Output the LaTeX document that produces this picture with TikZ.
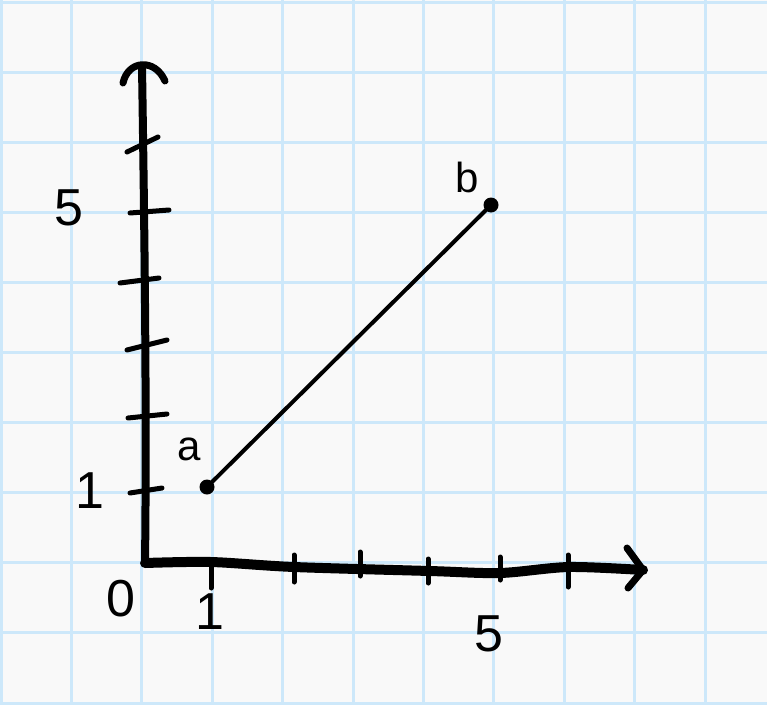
\documentclass[tikz,border=0pt]{standalone}
\usepackage{fontspec}
\setmainfont{Liberation Sans}
\definecolor{paper}{RGB}{249,249,249}
\definecolor{gridblue}{RGB}{205,232,250}
\tikzset{
  gridline/.style={draw=gridblue, line width=3},
  axisline/.style={line width=8, line cap=round, line join=round},
  tickline/.style={line width=5, line cap=round},
  segline/.style={line width=4, line cap=round},
  dotnode/.style={circle, fill=black, inner sep=0pt, minimum size=15},
  numlabel/.style={font=\fontsize{52}{52}\selectfont, inner sep=0pt},
  letterlabel/.style={font=\fontsize{42}{42}\selectfont, inner sep=0pt},
}
\begin{document}
\begin{tikzpicture}[x=1pt,y=-1pt]
\fill[paper] (0,0) rectangle (767,704);
\useasboundingbox (0,0) rectangle (767,704);
% grid
\foreach \i in {0,...,10} {
  \draw[gridline] ({1+70.4*\i},0) -- ({1+70.4*\i},704);
  \draw[gridline] (0,{2+70.1*\i}) -- (767,{2+70.1*\i});
}
% axes
\coordinate (O) at (145,563);
\coordinate (ytop) at (142,66);
\coordinate (xend) at (643,570);
\draw[axisline] (O) .. controls (147,400) and (144,200) .. (ytop);
\draw[axisline, line width=7] (123,83) .. controls (128,60) and (155,58) .. (165,81);
\draw[axisline, line width=10] plot[smooth, tension=0.5] coordinates {(145,563) (211,562) (294,567) (430,571) (500,573) (569,567) (643,570)};
\draw[axisline, line width=7] (627,548) -- (xend) -- (628,588);
% x ticks
\draw[tickline] (211,560) -- (211,588);
\draw[tickline] (294,555) -- (294,582);
\draw[tickline] (360,552) -- (360,576);
\draw[tickline] (428,559) -- (428,583);
\draw[tickline] (500,557) -- (500,580);
\draw[tickline] (568,555) -- (568,587);
% y ticks
\draw[tickline] (127,152) -- (158,137);
\draw[tickline] (130,213) -- (169,210);
\draw[tickline] (120,283) -- (159,278);
\draw[tickline] (127,350) -- (167,340);
\draw[tickline] (128,418) -- (167,414);
\draw[tickline] (130,493) -- (162,488);
% points and segment
\node[dotnode] (a) at (207,487) {};
\node[dotnode] (b) at (491,205) {};
\draw[segline] (a) -- (b);
% labels
\node[letterlabel] (la) at (189,449) {a};
\node[letterlabel] (lb) at (467,177) {b};
\node[numlabel] (y5) at (69,208) {5};
\node[numlabel] (y1) at (90,491) {1};
\node[numlabel] (x0) at (121,599) {0};
\node[numlabel] (x1) at (210,612) {1};
\node[numlabel] (x5) at (489,634) {5};
\end{tikzpicture}
\end{document}
